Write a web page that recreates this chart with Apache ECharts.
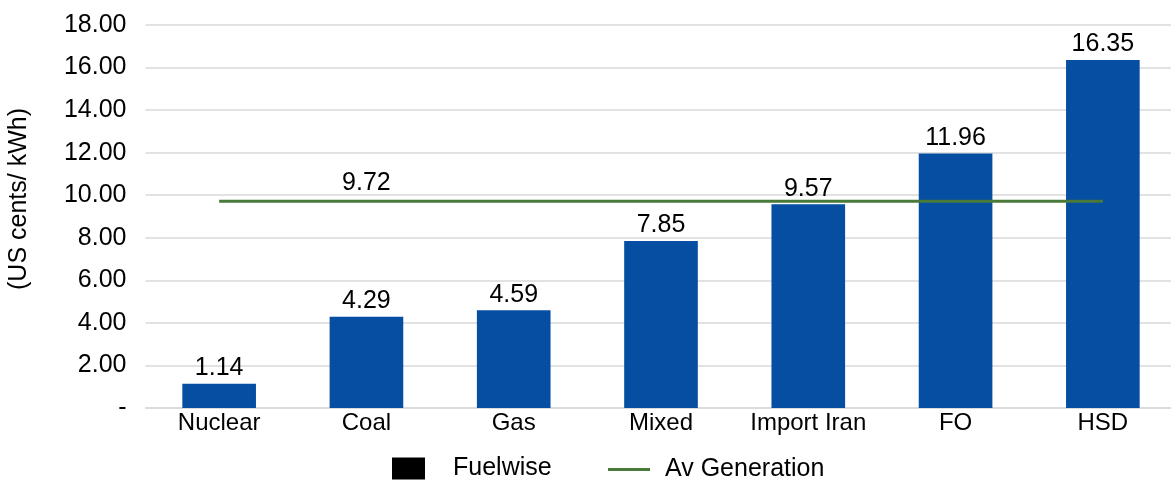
<!DOCTYPE html>
<html>
<head>
<meta charset="utf-8">
<script src="https://cdn.jsdelivr.net/npm/echarts@6/dist/echarts.min.js"></script>
<style>
  html, body { margin: 0; padding: 0; background: #ffffff; }
  #chart { width: 1171px; height: 482px; }
</style>
</head>
<body>
<div id="chart"></div>
<script>
// Generation cost by fuel type (US cents / kWh)
const categories = ['Nuclear', 'Coal', 'Gas', 'Mixed', 'Import Iran', 'FO', 'HSD'];
const fuelwise = [1.14, 4.29, 4.59, 7.85, 9.57, 11.96, 16.35];
const avGeneration = [9.72, 9.72, 9.72, 9.72, 9.72, 9.72, 9.72];
const avLabelIndex = 1; // the average is labelled once, above "Coal"

const FONT = '"Liberation Sans", Arial, sans-serif';
const BAR_COLOR = '#054EA2';
const LINE_COLOR = '#4A7A3A';

const chart = echarts.init(document.getElementById('chart'), null, { renderer: 'canvas' });

const option = {
  animation: false,
  backgroundColor: '#ffffff',
  textStyle: { fontFamily: FONT },
  grid: {
    left: 145.5, right: -5.5, top: 25, bottom: 74,
    containLabel: false,
    outerBoundsMode: 'none'
  },
  legend: [
    {
      left: 392, top: 456, padding: 0,
      itemWidth: 33, itemHeight: 22,
      textStyle: { fontFamily: FONT, fontSize: 25, color: '#000', padding: [0, 0, 0, 23] },
      data: [{ name: 'Fuelwise', icon: 'rect', itemStyle: { color: '#000000' } }]
    },
    {
      left: 608, top: 457, padding: 0,
      itemWidth: 42, itemHeight: 3,
      textStyle: { fontFamily: FONT, fontSize: 25, color: '#000', padding: [0, 0, 0, 10] },
      data: [{ name: 'Av Generation', icon: 'rect', itemStyle: { color: LINE_COLOR } }]
    }
  ],
  xAxis: {
    type: 'category',
    data: categories,
    axisTick: { show: false },
    axisLine: { show: true, lineStyle: { color: '#d9d9d9', width: 1.5 } },
    axisLabel: {
      fontFamily: FONT, fontSize: 24, color: '#000', margin: 3,
      interval: 0, hideOverlap: false
    }
  },
  yAxis: {
    type: 'value',
    min: 0, max: 18, interval: 2,
    name: '(US cents/ kWh)',
    nameLocation: 'middle',
    nameGap: 114,
    nameRotate: 90,
    nameTextStyle: { fontFamily: FONT, fontSize: 25, color: '#000', padding: [0, 0, 0, 35] },
    axisLine: { show: false },
    axisTick: { show: false },
    splitLine: { lineStyle: { color: '#d9d9d9', width: 1.5 } },
    axisLabel: {
      fontFamily: FONT, fontSize: 25, color: '#000', margin: 19,
      formatter: v => (v === 0 ? '-' : v.toFixed(2))
    }
  },
  series: [
    {
      name: 'Fuelwise',
      type: 'bar',
      data: fuelwise,
      barWidth: '50%',
      itemStyle: { color: BAR_COLOR },
      label: {
        show: true, position: 'top', distance: 3,
        fontFamily: FONT, fontSize: 25, color: '#000',
        formatter: p => p.value.toFixed(2)
      },
      z: 2
    },
    {
      name: 'Av Generation',
      type: 'line',
      data: avGeneration.map((v, i) => i === avLabelIndex
        ? { value: v, label: { show: true } }
        : v),
      symbol: 'circle',
      symbolSize: 0,
      showSymbol: true,
      lineStyle: { color: LINE_COLOR, width: 3 },
      itemStyle: { color: LINE_COLOR },
      label: {
        show: false, position: 'top', distance: 6,
        fontFamily: FONT, fontSize: 25, color: '#000',
        formatter: p => p.value.toFixed(2)
      },
      z: 3
    }
  ]
};

chart.setOption(option);
</script>
</body>
</html>
